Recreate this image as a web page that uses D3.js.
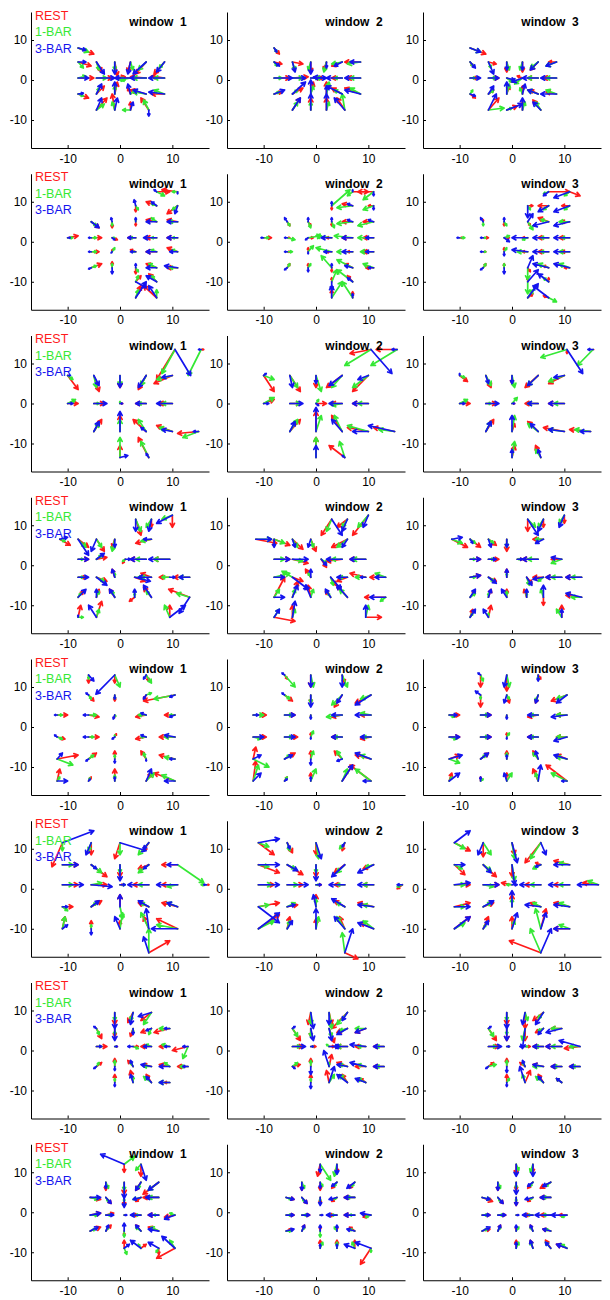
<!DOCTYPE html>
<html>
<head>
<meta charset="utf-8">
<script src="https://cdn.jsdelivr.net/npm/d3@7"></script>
<style>
body { margin: 0; background: #fff; }
svg { display: block; font-family: "Liberation Sans", Arial, sans-serif; }
</style>
</head>
<body>
<script>
// one quiver panel per row x window; each vector row is [restU,restV, bar1U,bar1V, bar3U,bar3V]
const windowNames = ["window  1", "window  2", "window  3"];
const conditions = ["REST", "1-BAR", "3-BAR"];
const conditionColors = ["#ff1a1a", "#35e835", "#1414ee"];
const tickValues = [-10, 0, 10];

const row1Targets = [[-8,8],[-8,4.5],[-4.5,4.5],[-1,4.5],[2,4.5],[5,4.5],[8.5,4.5],[-8,0.5],[-4.5,0.5],[-1,0.5],[2,0.5],[5,0.5],[8.5,0.5],[-8,-3.5],[-4.5,-3.5],[-1,-3.5],[2,-3.5],[5,-3.5],[8.5,-3.5],[-4.5,-7.5],[-1,-7.5],[2,-7.5],[5.5,-7.5]];
const row1Window1 = [[3,-1.5,2,-1,1.5,-0.5],[2.5,-1,1,-1.5,1.5,0],[1,-2.5,0.5,-2,1.5,-3],[0.5,-3.5,0,-2,0,-3],[-0.5,-2.5,0.5,-2,-0.5,-3],[-2,-3,-1.5,-2,-2.5,-3],[-2,-3,-1,-1.5,-1.5,-2.5],[3,0,1.5,0.5,2,0],[3,0,2,0,3.5,0],[2,0.3,2,-0.5,1,0],[-2,0,-2,-0.5,-3,0],[-3,0.3,-2.5,0,-3,0],[-2.5,0.5,-2,0,-3,0],[2,-1,1,-0.5,1,0.2],[1.5,2,0.5,1.5,1,2.5],[0.5,3,0,2,0,3],[-0.5,1.5,1,1,-0.5,2.5],[-3,1,-2.5,0.5,-2.5,1],[-2.5,0,-2,1,-3,0.5],[2,3,1.5,1.5,1,3],[-0.5,4,-0.5,2,0.5,3],[0,2,-1.5,0,0.5,2],[-1.5,3,-1,2.5,0,-1.5]];
const row1Window2 = [[1,-1.5,0.5,-1,0.5,-1],[1.5,-0.5,0.5,-1,1,-1],[2,-0.5,0.5,-2,0.5,-2.5],[0,-2.5,-0.5,-2,0,-3],[-0.5,-2,-0.5,-2.5,0,-1.5],[-2,-1,-2,-0.5,-1.5,-1],[-3,0,-2.5,-0.5,-2,0],[3,0,1.5,0,3.5,0],[3,0.3,2,0,2.5,0],[2,0,1.5,0,3,0],[-1.5,0,-2,0,-2.5,0.2],[-2,0,-1.5,0,-3,0],[-2.5,0,-2,0,-3,0],[1.5,0.5,1,0.5,2,1],[2,1.5,1,1,2.5,3],[0.5,3,0.5,2,0,3.5],[0,3,0.5,3,0,2],[-2,1.5,-1.5,1,-3,2],[-3,1.5,-2,1.5,-3,1],[1.5,3,1,2,1.5,3],[0,3,0,2,0,4],[0,3,0.5,2,0,4],[-1.5,3,-0.5,4,-2,3]];
const row1Window3 = [[3,-1.5,2,-1,2,-1],[0.5,-1,0.5,-1,1,-1.5],[1.5,-0.5,0.5,-1.5,1,-3],[0,-2.5,0.5,-2,0,-2],[0,-2.5,-0.5,-2,0,-2],[-1.5,-2,-1.5,-1.5,-1.5,-2],[-1.5,0,-2,-1,-2,-1],[1.5,0,1,0,2,0],[2,0,1.5,0,2,0],[1.5,-1,1,-1,1.5,-0.5],[-1,0.5,-1.5,-1.5,-2,-1],[-2,0,-2,0,-3,0],[-2.5,0,-2,0,-3,0],[1,-1,0.5,1,1,-0.5],[1,1,1,1,1,2],[0.5,2,0.5,2.5,0,3],[0,2,-0.5,1.5,0.5,2.5],[-1.5,1,-2,1,-2,1],[-2,0.5,-2,1,-3,0],[2,3,3,0.5,1.5,4],[2,1,1,0.5,3,1.5],[0,2,0.5,2,0,3],[-1.5,2.5,-1,2,-1.5,2]];

const row2Targets = [[-10,1],[-5.5,5],[-5.5,1],[-5.5,-2.5],[-5.5,-6.5],[-1.5,5],[-1.5,1],[-1.5,-2.5],[-1.5,-6.5],[3,9],[3,5],[3,1],[3,-2.5],[3,-6.5],[3,-10],[3,-14],[7,12.5],[7,9],[7,5],[7,1],[7,-2.5],[7,-6.5],[7,-10],[7,-14],[11,12.5],[11,9],[11,5],[11,1],[11,-2.5],[11,-6.5]];
const row2Window1 = [[2,0.5,1,0,0.5,0],[1.5,-1.5,1,-1,1.5,-1.5],[2,0,1,0,-0.5,0],[1.5,0,1,0,-0.5,0],[2,1,1,0.5,-0.5,-0.3],[0,-1.5,0,-1,-0.2,1],[1,-0.5,0.5,0,0.5,-0.5],[0,0.5,0.5,1,-0.2,-0.3],[0,1.5,0,1,0,-1.5],[0,-1.5,0.5,-1,-0.3,1.5],[0,-1,0,0.5,0,1],[-1.5,0,-1,0,-1.5,0],[-1,0.5,-0.5,0,-1,0],[0,-1.5,0.5,-1,0,1],[1,1.5,0.5,1.5,2,-1.5],[1,3,0.5,2,2,4],[2.5,0,1.5,-1,-0.5,0.5],[-2,1,-1,0.5,-1,1],[-2,0.5,-1,1,-2,0],[-2,0,-1,0,-2.5,0],[-2,0,-1,0.5,-2,0],[-2,1,-1.5,1,-2,0],[-1.5,2,-1,1.5,-2,1.5],[-2.5,3,0,2,-1.5,3],[-3,0.5,-1,0,0,-0.5],[-2,-2,-1,-1,-0.5,-2],[-2,0.5,-1.5,0,-2,0],[-2,0,-1,0,-2,0],[-2,1,-1,0.5,-1.5,0],[-2,0,-1.5,0,-2.5,0.5]];
const row2Window2 = [[1.5,0,1,0,-0.5,0],[0.5,-1,0.5,-1,-0.5,1],[0.5,0,1.5,-0.5,-0.5,0],[0.5,0,1,0,-0.5,0],[0.5,1,0.5,1,-0.5,-0.5],[0.5,-1,0.5,-1.5,0,1],[1,0,2.5,0.5,-0.5,-0.5],[0,1,1,1.5,0,-0.5],[0,1,0.5,1,0,-1],[0,-1,3.5,4,0,1],[0,-1,0.5,-1.5,0,1],[-1,0,-3,0.5,-2,0],[-1,0,-3,1,-1.5,0],[0,-1,-2,3,0,1],[0,1,1,3,0,-2],[0,2,2,4,0,3],[3,0,-1,-1,0,0.5],[-2,0.5,-3,-0.5,-1,0.5],[-2,0,-3,-0.5,-1,0.5],[-2,0,-3.5,0.5,-2,0],[-1,0,-3,0,-2,0],[-1.5,1,-3,2,-1.5,0.5],[-1,1.5,-3,3,-1,1],[0,1.5,-2,4,0,1],[-3,0,-2,-2,0,-1],[-1,0,-2,-1,0,-1],[-2,0,-3,-1,-1,0.5],[-2,0,-3,0,-1.5,0],[-2,0,-2.5,0,-1.5,0],[-1.5,0,-2,1,-1,0]];
const row2Window3 = [[0.5,0,1,0,-0.5,0],[0,0.5,0,-1,-0.5,1],[1,0,0.5,0,-0.5,0],[0.5,0,0.5,0,-0.5,0],[0.5,1,0.5,1,-0.5,-0.5],[0,-1,0.5,-1,0,1],[1,0,1,0.5,1,-1],[0,1,0.5,1,0,-1],[0,1,0,1,0,-1.5],[1,0,0.5,-1,0,-3],[0.5,-1,1,-2,1,2],[-1,0,-1,-0.5,-3,0],[-1,0,-2,0,-3,0.5],[0.5,-1,0,-3,1,3],[0,1,0,-3,2,3],[1,1,1,2,2,3.5],[4,0,-1,-0.5,-1,-1],[-2,0,-1,-1,-2,-1.5],[-2,1,-1.5,0.5,-3,-1],[-2,0,-1.5,0,-3,0],[-2,0,-1.5,0,-3,0],[-1,0.5,-2,1,-3,1],[0,1,-1,1,-2,2],[-1,0.5,1.5,-1,-3,3],[2,-1,-1,-1,-3,-1.5],[-1.5,0,-1,-1,-3,-1.5],[-1.5,0,-2,0,-3,-1],[-2,0,-1.5,0,-3,0],[-1.5,0,-2,0,-3,0],[-1,0,-2,1,-3,1]];

const row3Targets = [[-10,7],[-5,7],[0,7],[5,7],[10,7],[10.5,13.5],[15.5,13.5],[-10,0],[-5,0],[0,0],[5,0],[10,0],[-5,-7],[0,-7],[5,-7],[10,-7],[15,-7],[0,-13.5],[5.5,-13.5]];
const row3Window1 = [[2,-3.5,1,-1,0.5,0],[1,-4,0.5,-3,1,-2.5],[0,-3,0,-2.5,0,-3],[-1.5,-3.5,-1,-2.5,-1.5,-3],[-3.5,-2,-3,-1,-2,-0.5],[-3.5,-7.5,-2.5,-6,3,-6.5],[0.5,0,-2.5,-6.5,-0.5,0],[2,0,1.5,1,1,0],[2,0,1,0,2.5,0],[0.5,0,0,0.5,0.5,0],[-2,0,-1.5,0,-2,0],[-2.5,0,-2,0,-3,0],[1.5,3,1,2,1,2.5],[0,4,0,3,0,5],[-2.5,3,-1.5,3,-1,1],[-3,1.5,-2.5,1,-2,0.5],[-4,-0.5,-3,-1.5,-1,0],[0,3,0,5,1.5,0.5],[-2,5,-1.5,4,-0.5,1]];
const row3Window2 = [[2,-4,2,-1,0.5,0.5],[2,-4,1.5,-3,0.5,-3],[0,-3,1,-4,0,-2],[-3,-3,-2,-3,-2.5,-2.5],[-3,-4,-3,-3,-2,-1],[-4,-1,-5,-4,4,-6],[-4,0,-5,-4,-1,0],[2,1,2,1.5,1,0],[2,0,2,0,2.5,0],[2,0,0.5,1,0.5,-0.5],[-2,0,-2,-0.5,-2.5,0],[-3,0,-2,0,-3,0],[2,3,1.5,3,1,2.5],[0,5,1,4,0,6],[-2,4,-1.5,4,-2,3],[-4,1,-4,1.5,-3,0],[-4,1,-3,0.5,-5,1.5],[0,5,0,5,0,3],[-3,3,-1,4,-0.5,0.5]];
const row3Window3 = [[1.5,-1.5,1,-0.5,0,0.5],[1,-3,1,-2.5,0.5,-2],[0,-2,0.5,-3,0,-2],[-2.5,-3,-2,-2.5,-2,-2.5],[-3,-2,-3,-1.5,-2,-0.5],[0,-1,-5,-2,3,-6],[0,0,-3,-4,-1,0],[2,0,1.5,1,1,0],[2,0,1,0,2.5,0],[0.5,0,1,1.5,0.5,0],[-2.5,0,-2,0,-2,0],[-3,0,-2,0,-3,0],[1.5,3,1,2.5,1,2.5],[0.5,2,0.5,4,0,4],[-2,2.5,-2,2,-1.5,2],[-4,1,-3,0.5,-3,0.5],[-4,0.5,-3,0.5,-2,0],[0.5,3,0.5,4,0,2],[-1,3,-1,2,-0.5,2]];

const row4Targets = [[-11.5,6.5],[-8,6.5],[-4.5,6.5],[-1,6.5],[3,11.5],[6,6.5],[10,12.5],[-8,1.5],[-4.5,1.5],[1,1.5],[5,1.5],[9.5,1.5],[-8,-3],[-4.5,-3],[-1,-3],[2.8,-3],[6,-3],[9.5,-3],[13.3,-3],[-8,-8],[-4.5,-8],[-1,-8],[2.8,-8],[6,-8],[13.3,-8],[-8,-13],[-4.5,-13],[9.5,-13],[6,11.5]];
const row4Window1 = [[2,-1.5,1,-0.5,1.5,0.5],[2,-2,1.5,-2,2,-4],[1.5,-3,1,-2,-1,-3],[-0.5,-2,-0.5,-3,0,-2],[1,-4,1,-3,0,-3],[-3,-1,-2,-0.5,-1.5,0],[0,-3,-2,-1,-3,-2],[2,0,1,0,2,0],[2,0.5,1,1,1.5,1.5],[-0.5,-1,-0.5,-0.5,1,0],[-3,0,-2,0,-3,0],[-3,0,-3,0,-4,0],[1.5,0,1,0,2,0],[2,-1,1.5,-1,2,-2],[-0.5,2,0,1,-0.5,2],[2,-1,1.5,0,3,-1],[-2,1,-2,0,-2.5,0],[-2,0,-1.5,0,1,0],[-3,0,-2,0,-2,0],[1,1.5,0.5,1,1.5,2],[0.5,2,0.5,1.5,0,2],[-1,2,-0.5,1.5,-1,2],[-1,-1,0,1,0,2],[-1.5,2.5,-1,1.5,-1.5,3],[-4,2,-2.5,1,-2,-4],[0.5,3,1,0,0,0.5],[1,4,0.5,2,-1.5,3],[0,3,-1,3,3,3],[0,-2,-1,-2,-0.5,-3]];
const row4Window2 = [[4,-1,3,0,3,0],[3,-1.5,2,-1,0,-2],[2,-2.5,1,-2,0.5,-2],[1,-3,0.5,-2,-0.5,-2],[-2,-4,-1,-3,2,-4],[-3,-2,-2,-2,-1,-2],[-3,-5,-2,-3,-1,-3],[3,0,2,0,3,0],[3,-1,2,-0.5,3,0],[1,-2,1,-1,1,-1.5],[-3,-0.5,-2,0,-3,0],[-3,0,-2.5,0,-3,0],[2,0,3,1,2,0],[2,-1,-2,1.5,3,-3],[-1,2,-0.5,1,0,2],[1,-2,0.5,-2,2,-3],[-2,-1,-1.5,0,-2,0],[-3,1,-2,0,-1,0],[-3,0,-2,1,-2,0],[2,5,1,2,2,0],[1,4,0.5,2,1,3],[-0.5,3,0.5,2,-1,3],[-1,1.5,-0.5,1,-1,2],[-2,3,-1.5,2,-2,3],[-4,0,-1,-1,-3,0],[4,-1,1,2,1,2],[0,3,0.5,2,0.5,4],[3,0,0.5,3,0,3],[-2,-2,-1,-2,-1,-3]];
const row4Window3 = [[3,-2,2,-1,2,0.5],[2,-2,1,-1,0.5,-1],[1.5,-1.5,1,-1,0.5,-2],[0,-3,0,-2,0,-2],[0,-3,1.5,-2,2,-4],[-2,0,-1.5,0,-1.5,-1],[0,-2,-1,-2,-1,-3],[2,0,1,0,2,0],[2,0,1,0,1.5,0],[1,0,0.5,0,1,0],[-3,0,-2,0,-3,0],[-2,0,-2,-1,-2,0.5],[2,0.5,1,0,2,0.5],[1.5,-1,1,-1,1.5,-1.5],[0,2,0,1,0,2],[1,-1.5,0.5,-2,1,-2],[-2,0,-1,-1,-2,-0.5],[-3,0,-2,0,-3,0],[-3,0,-2,0,-3,0],[1,1.5,1,1,1,2],[0.5,2,0,1,0.5,2],[0,2,0,1.5,-1,2],[-0.5,2,0,1,0,2],[0,-2,-0.5,2,0,3],[-3,0.5,-2,0,-3,1],[0.5,2,0.5,1,1,2],[0.5,3,0,1,-1,2],[0,3,-1,2,0,2],[0,-2,-1,-2,-1,-3]];

const row5Targets = [[-6,13],[-1,13],[5,13],[-6,8],[-1,8],[5,8],[10.5,8],[-12,3],[-6,3],[-1,3],[5,3],[10.5,3],[-12,-2.5],[-6,-2.5],[-1,-2.5],[5,-2.5],[10.5,-2.5],[-12,-8],[-6,-8],[-1,-8],[5,-8],[10.5,-8],[-12,-13.5],[-6,-13.5],[-1,-13.5],[5,-13.5],[10.5,-13.5]];
const row5Window1 = [[0,-2,0,-1,1,-1.5],[0,-2,1,-3,-3.6,-4.8],[0.5,-1.5,1,-2,-0.5,-1],[1,-1.5,0.5,-1,-0.5,0.5],[0,-1.5,0,-1,0,-1],[-0.5,-1,1,0.5,-0.5,-1],[-6,-1.5,-4,-1,-1,-0.5],[2,0,1,0,-0.5,0],[2,-0.5,1.5,0,-1,0],[0,-0.5,0.2,-0.3,-0.3,-1],[-2,-0.5,-1.5,0,-1,0.5],[-2,0,-1,0,-1,-0.5],[1.5,-0.5,1,-0.5,-0.5,0.5],[2,0,1,0,-1,0],[0.3,0.8,0,0.5,-0.5,-0.5],[-2,-0.5,-1,0,-1,0.5],[-3,0,-2,0,-2,0.5],[4,1,3,-1.5,1,1.5],[1.5,1.5,1,1,-0.5,-0.5],[0,2,0,1,0,-1],[-1,2,-0.5,1.5,0,-0.5],[-3,1,-2,0.5,-1,0],[0.5,3,0.5,1,2,0],[0.5,1,0.3,0.8,0.3,0.5],[0,3,0,1.5,0,1],[1,2,1.5,2,1,3],[-4,2,-2.5,1.5,-2,0]];
const row5Window2 = [[0.5,-1,2,-3,-0.5,0.5],[0,-3,0.5,-3,0,-3],[0.5,-2,1,-3,0,-3],[1.5,-1.5,1,-1,-0.5,0.5],[0,-2,0,-2,0,-3],[-1.5,-3,-2,-2.5,-1,-2],[-3,-2,-2,-1,-3,-2.5],[2.5,0,2,0,1,0],[2,0,1.5,0,2,0],[0,-0.5,0,-0.5,0,-1],[-2,-0.5,-3,-0.5,-2,0],[-2,0,-2,0.5,-3,0],[2.5,0,1.5,-0.5,2,0],[2.5,0,1.5,0,2,0],[0,1,0.5,1.5,0,-0.5],[-2,0,-1.5,0,-2,0],[-2,-0.5,-1.5,0,-2,0],[0.5,3,3,-2,1.5,1],[2,1.5,1,1,1.5,1],[0,2,0.5,2,0,-1.5],[-1.5,2,-1,2,-1,-0.5],[-3,1,-2,1,-3,1.5],[0.5,5,1,4,1.5,2],[0.5,1,0.5,1,0.5,0.5],[0,2,1,3,0,1],[2,4,1,3,2,4],[-4,4,-3,3,-1.5,0]];
const row5Window3 = [[0,-3,0.5,-1.5,-0.5,0.5],[0,-4,0.5,-3,-0.5,-3],[0.5,-1,0,-1,0,-1.5],[0,-3,0,-1,-1,1],[0.5,-2,0.5,-1,-0.5,-2],[-0.5,-2,-0.5,-1.5,-0.5,-2],[-3,-1.5,-2,-1,-2,-2],[2,0,1,-0.5,1.5,0],[2,0,1.5,0,2,0],[0,-0.5,0,-0.5,0,-1],[-2,-0.5,-1.5,0,-2,0],[-2,0,-2,0,-3,-0.5],[2,0,1.5,-0.5,2,0],[2,0,1.5,0,2,0],[0,1,0.5,1,0,-0.5],[-2,0,-1.5,0,-2,0],[-2,0,-2,0,-2.5,-1],[2,1,2,-1,2.5,1],[1.5,1.5,1,1,1.5,1.5],[0,2,0,1.5,0,1],[-1,2,-1,1.5,-0.5,2],[-2,1,-2,0.5,-2.5,1],[0.5,2,0.5,1,2,2],[0,1,0.5,0.5,0,1],[0,2,1,2,-0.5,2],[-1,3,-0.5,2,0.5,4],[-4,4,-3,2,-1,0]];

const row6Targets = [[-11,11.5],[-5.5,11.5],[0,11.5],[5.5,11.5],[-11,6],[-5.5,6],[0,6],[5.5,6],[11,6],[-11,1],[-5.5,1],[0,1],[5.5,1],[11,1],[16.5,1],[-11,-4.5],[-5.5,-4.5],[0,-4.5],[5.5,-4.5],[11,-4.5],[-11,-10],[-5.5,-10],[0,-10],[5.5,-10],[11,-10],[5.5,-16]];
const row6Window1 = [[-2,-6,0,-2,6,3],[0,-3,-0.5,-2,-1,-3],[-1,-4,0,-3,5,-2],[-1,-2,-2,-3,-1,-1.5],[3,0,2,0,3,0],[3,-3,2,-2,1,-1],[0,-3,0,-2,0,-4],[-2,-1,-2,-2,-1,-1],[-3,0,5,-4.5,-2,0],[3,0,2,0,4,0],[3,0,2,0.5,4,-0.5],[0.5,0,1,0,1,0],[-3,0,-2,0,-4,0],[-3,0,-2,-0.5,-4,0],[0.5,0,-1,0,-0.5,0],[2,0,1,-1,1,0],[2,1.5,1,1,1.5,1.5],[0,3,0.5,-3,0,3],[-2,1,-1.5,1,-2,1.5],[-3,1,-2,1,-2,1],[0.5,3,0.5,3,1,1],[0,2,0,1,0,-1.5],[0,2,0.5,4,-1,3],[-1,3,-1.5,4,-0.5,5],[-4,2.5,-4,1,-5,0],[4,3,0,6,-1,4]];
const row6Window2 = [[3,-3,2,-1,4,1],[1,-2.5,0.5,-2,0.5,-1.5],[0,-3,0.5,-4,1,-4],[-0.5,-2,-1,-1.5,-0.5,-1],[4,-2,2,-0.5,4,0],[3,-2.5,1.5,-1,2,-1.5],[0,-3,0,-2,0,-4],[-2,-2,-1.5,-2,-2.5,-3],[-2,-1,-1.5,-0.5,-3,-2],[3,0,2.5,0,4,0],[3,0,2,0,4,0],[1,0,0.5,0,1,0],[-2,0,-1.5,0,-3,0],[-2,0,-2,0,-3,0],[-1,-1,-1,-0.5,-1,0],[4,1,2,0.5,4,-4],[2,0.5,1.5,1,1.5,0.5],[0,3,0,2,-0.5,3],[-2,1.5,-1.5,1,-2.5,2],[-3,1,-2,0.5,-3,0.5],[4,3.5,3,2,4,4],[0.5,3,0.5,2,1,2],[0,2.5,0.5,3,0,5],[-1,3,-1.5,3,-2,3],[-2.5,1.5,-2,2,-3,1.5],[2.5,-1.5,-0.5,5,1.5,6]];
const row6Window3 = [[3,-2,2,-1.5,3,3],[0,-3.5,1.5,-3,-1,-3],[0.5,-3,0.5,-4,1,-5],[-3,-5,-2,-4,1,-3],[2,-2.5,1.5,-1,2,0],[2.5,-3,1.5,-1.5,1.5,-2],[0,-3,0.5,-4,0.5,-5],[-1,0.5,-1.5,-1,-1,-0.5],[-3,1,-2,0.5,-3,0],[3,0,2,0,3,0.5],[3,0,2,-0.5,3,0],[-2,0.5,-1,0,1,0],[-3,0,-2,0,-4,0],[-3,0,-2,0,-4,0],[-3,0.5,-2,1,-4,0],[3,1,2,0,3,0],[2,1,1.5,1,2,1.5],[0,3,0,2,0,4],[-2,1,-1.5,1,-3,0.5],[-3,1,-2,1,-3,0.5],[3,3,2,1.5,3,3],[1,3,0.5,1,1,2],[0,3,0.5,2,1,4],[1,5,-1,5,1,4],[-3,0,-2,1,-3,0],[-6,3,-2,6,2,6]];

const row7Targets = [[-1,9.5],[2.5,9.5],[6,9.5],[-4.5,5.5],[-1,5.5],[2.5,5.5],[6,5.5],[9.5,5.5],[-4.5,1],[-1,1],[2.5,1],[6,1],[9.5,1],[13,1],[-4.5,-4],[-1,-4],[2.5,-4],[6,-4],[9.5,-4],[13,-4],[-1,-8],[2.5,-8],[6,-8],[9.5,-8]];
const row7Window1 = [[0,-3,0,-2,0,-4],[-1,-2.5,-0.5,-2,-0.5,-3],[-2,-2,-1.5,-3,-2.5,-1],[1,-2.5,0.5,-1.5,-0.5,0.5],[0,-2,0,-1.5,0,-3],[-0.5,-2,0,-1,0,-1.5],[-2,-1,-0.5,-1.5,-1,-0.5],[-3,-1,-2,0,-1,0],[2,0,1,0,1,0],[0.5,0,0.3,0,0.5,0],[1,0,1,-0.5,-1,0],[-2,0,-1,0.5,-1.5,0],[-2,0,-1.5,0.5,-1,0],[-3,-1,-1,-3,-1,0],[1,1,0.5,1,-0.5,-0.5],[0,2,0,1.5,0,-1],[-1,1.5,-0.5,1,-0.5,1.5],[-1.5,0.5,-1.5,0,-2,0.5],[-2,0.5,-1,1,-2,0],[-2,0,-1.5,0,-1,0],[0,2,0,1,0,-1],[-0.5,3,0,1.5,-0.5,2],[-1,2,-1.5,1.5,-1,1.5],[-1,0,-2,0,-2,0]];
const row7Window2 = [[-0.5,-3,0,-3,0.5,-4],[0.5,-3,0.5,-4,0,-3],[-3,-4,-2,-3,-1,-2],[1.5,-3,1,-2,0.5,0.5],[0,-2,0,-2,0.5,-3],[1,-3.5,0.5,-2,0.5,-3],[-2,-1,-1.5,-0.5,-2,-1.5],[-2,-1,-2,0,-2,-1],[2,0,1.5,0,2.5,0],[1,0,0.5,0,0.5,0],[1,0,-0.5,0.5,2,0],[-2,0,-2,0,-2.5,0],[-2,0,-1.5,0,-3,0.5],[-2,0,-1.5,0,-2,0],[1.5,0.5,1,1,0.5,-0.5],[0,2,0,1.5,0,-2],[0.5,3,0,1,-1,4],[-2,1,-1.5,0.5,-2,0.5],[-2,0,-1.5,0.5,-3,1],[-2,0,-1.5,0,-2,0],[0,2,0,1,0,-1.5],[-0.5,3,1,2,1,4],[-1,2,-1.5,2,-2,2],[-1,1,-1.5,1,-2,1]];
const row7Window3 = [[0,-3,0,-2,0,-4],[0,-4,0.5,-2,-0.5,-3],[-2,-2,-1,-1.5,-1.5,-3],[1.5,-3,1,-2,0.5,0.5],[0,-3,0,-1.5,0,-3],[0,-3,-0.5,-3,-0.5,-5],[-1.5,-1,-1,-0.5,-1,-1.5],[-2,0,-2,0,-3,-1],[2,0,1.5,0,2.5,0],[0.5,0,0.5,0,0.5,0],[1,0,0.5,0,-1,0],[-2,0,-1.5,0,-2,0],[-3,0,-2,0,-3,0],[-3,-0.5,-2,0,-4,1.5],[1,1,1.5,0.5,-0.5,-0.5],[0,2,0,1.5,0,-1.5],[-1,1,-0.5,1,-0.5,1.5],[-2,0.5,-2,0,-2,0.5],[-2,0,-1.5,0,-2,0],[-2,0,-1.5,0,-2,0],[0,2,0.5,1,0,-1],[1,3,-0.5,2,-1,4],[-1,2,-1.5,1.5,-1,1.5],[-1,1,-1,1,-1,1]];

const row8Targets = [[0.8,12],[4,12],[-2.7,7.5],[0.8,7.5],[4,7.5],[7.4,7.5],[-5.7,3.7],[-2.7,3.7],[0.8,3.7],[4,3.7],[7.4,3.7],[-5.7,-0.7],[-2.7,-0.7],[0.8,-0.7],[4,-0.7],[7.4,-0.7],[10.5,-0.7],[-5.7,-4.7],[-2.7,-4.7],[0.8,-4.7],[4,-4.7],[7.4,-4.7],[0.8,-9],[4,-9],[7.4,-9],[10.5,-9]];
const row8Window1 = [[0,-2,2,2,-4.5,2.5],[0,-3,-1,-1.5,1,-4],[0,-2,0.5,-1.5,0,-1.5],[0,-3,0,-2,0,-4],[-1,-2,-0.5,-1.5,-1,-2],[-3,-3,-2,-2,-2,-2],[2,-0.5,1.5,-0.5,2,0],[1,-1.5,0.5,-1,1,-1.5],[0,-2,0,-1,0,-2.5],[-1,-1,-1.5,-0.5,-1.5,-0.5],[-3,0,-2,0,-2.5,0],[2,0.5,1.5,0,2,0.5],[1.5,0.5,1,0,1.5,0],[0.3,0,0.2,0,0.5,0],[-1.5,0,-1,0,-2,0],[-2,0,-1,0,-2,0],[-2,-0.5,-1,0.5,-2,-1],[2,1,1,0.5,1.5,1],[1,1.5,0.5,1,0.5,1.5],[0,-1,0,-1.5,0,2],[-1,1.5,-1,1,-1,1.5],[-2,1,-1.5,1,-2,0.5],[0,2,0.5,-1.5,1,1],[1,1,-0.5,1,-2,2],[0,-1.5,-0.5,-1,-2,1.5],[-3.5,-2.5,-1,2,-2.5,3]];
const row8Window2 = [[-0.5,-3,2,-4,0,-2],[0,-2,-0.5,-3,0,-2.5],[0,-2,0.5,-1.5,0,-2],[0,-2,0.5,-1,0,-1.5],[-1,-1.5,-0.5,-1,-1,-1],[-1,-1.5,-0.5,-1,-1.5,-1.5],[1.5,-0.5,1,-0.5,1.5,-0.5],[1,-1.5,0.5,-1,1,-1.5],[0,-1.5,0,-1,0,-2],[-1,-1,-0.5,-0.5,-1.5,-0.5],[-2,0,-1.5,0,-2,0],[1.5,0,1,0,1.5,0],[1.5,0,1,0,1.5,0],[0.3,0,0.2,0,0.5,0],[-1.5,0,-1,0,-2,0],[-2,0,-1,0,-2,0],[-1.5,-0.5,-1,-0.5,-2,0.5],[1,0.5,1,0,1.5,0.5],[0.5,1.5,0.5,1,0.5,1.5],[0,1,0,-1.5,0,1.5],[0,1,-0.5,1,0,1.5],[-1,1,-1,0.5,-1.5,0.5],[0,2,0.5,1.5,0,1],[0,2,0,1.5,0,1],[0,2,-0.5,1.5,-2,1],[-2,-4,0,-1,-3,1.5]];
const row8Window3 = [[0,-2.5,0.5,-1.5,0,-3],[0,-2,-0.5,-2,0,-3],[0,-2,0.5,-1.5,0,-2],[0,-2,0,-1.5,0,-3],[-1,-1.5,-0.5,-1,-1,-1],[-2,-1.5,-1,-1,-1.5,-1],[2,-1,1.5,-0.5,1.5,-0.5],[1,-1.5,0.5,-1,1,-1.5],[0,-2,0,-1,0,-2],[-1,-1,-0.5,-0.5,-1.5,-0.5],[-2,0,-1.5,0,-2,0],[1.5,0,1,0,1.5,0],[1.5,0,1,0,1.5,0],[0.3,0,0.2,0,0.5,0],[-1.5,0,-1,0,-2,0],[-2,0,-1.5,0,-3,0],[-1.5,0,-1,-0.5,-3,0],[1.5,0.5,1,0.5,1.5,1],[0.5,1.5,0.5,1,0.5,1.5],[0,1,0.5,1,0,1.5],[-0.5,1.5,-0.5,1,-0.5,1.5],[-1.5,0.5,-1,0.5,-1.5,0.5],[0,2,0.5,1.5,0,1.5],[-0.5,2,-0.5,1.5,-0.5,2],[-1,2,-1,1.5,-1,1.5],[-2,1,-1,1,-2,1]];

const rows = [
  {targets: row1Targets, windows: [row1Window1, row1Window2, row1Window3]},
  {targets: row2Targets, windows: [row2Window1, row2Window2, row2Window3]},
  {targets: row3Targets, windows: [row3Window1, row3Window2, row3Window3]},
  {targets: row4Targets, windows: [row4Window1, row4Window2, row4Window3]},
  {targets: row5Targets, windows: [row5Window1, row5Window2, row5Window3]},
  {targets: row6Targets, windows: [row6Window1, row6Window2, row6Window3]},
  {targets: row7Targets, windows: [row7Window1, row7Window2, row7Window3]},
  {targets: row8Targets, windows: [row8Window1, row8Window2, row8Window3]}
];

var margin = {top: 12, left: 31},
    panelW = 178, panelH = 136,
    colStep = 196, rowStep = 161.75;

const svg = d3.select("body")
    .append("svg")
    .attr("width", 610)
    .attr("height", 1300);

const xscale = d3.scaleLinear().domain([-17, 17]).range([0, panelW]);
const yscale = d3.scaleLinear().domain([-17, 17]).range([panelH, 0]);

// quiver arrow: shaft plus two short barbs at the tip
function arrowPath(d) {
    const x0 = xscale(d.x), y0 = yscale(d.y);
    const x1 = xscale(d.x + d.u), y1 = yscale(d.y + d.v);
    const len = Math.hypot(x1 - x0, y1 - y0);
    if (len < 0.5) return `M${x0},${y0}L${x0 + 0.5},${y0}`;
    const a = Math.atan2(y1 - y0, x1 - x0);
    const h = Math.min(4.5, len * 0.4);
    const l = [x1 - h * Math.cos(a - 0.5), y1 - h * Math.sin(a - 0.5)];
    const r = [x1 - h * Math.cos(a + 0.5), y1 - h * Math.sin(a + 0.5)];
    return `M${x0},${y0}L${x1},${y1}M${l[0]},${l[1]}L${x1},${y1}L${r[0]},${r[1]}`;
}

rows.forEach((row, ri) => {
    row.windows.forEach((vecs, wi) => {
        const g = svg.append("g")
            .attr("transform", `translate(${margin.left + wi * colStep},${margin.top + ri * rowStep})`);

        // x-axis
        g.append("g")
            .attr("transform", `translate(0,${panelH})`)
            .call(d3.axisBottom(xscale).tickValues(tickValues).tickSize(-3).tickSizeOuter(0)
                .tickPadding(6).tickFormat(d => String(d)))
            .call(ax => ax.selectAll("text").attr("font-size", 12).attr("font-family", "Liberation Sans, Arial, sans-serif"));

        // y-axis
        g.append("g")
            .call(d3.axisLeft(yscale).tickValues(tickValues).tickSize(-3).tickSizeOuter(0)
                .tickPadding(4).tickFormat(d => String(d)))
            .call(ax => ax.selectAll("text").attr("font-size", 12).attr("font-family", "Liberation Sans, Arial, sans-serif"));

        conditions.forEach((c, k) => {
            const arrows = row.targets.map((t, i) => ({x: t[0], y: t[1], u: vecs[i][2 * k], v: vecs[i][2 * k + 1]}));
            g.append("g")
                .selectAll("path")
                .data(arrows)
                .join("path")
                .attr("d", arrowPath)
                .attr("fill", "none")
                .attr("stroke", conditionColors[k])
                .attr("stroke-width", 1.7)
                .attr("stroke-linecap", "round")
                .attr("stroke-linejoin", "round");
        });

        g.append("text")
            .attr("x", 127)
            .attr("y", 14)
            .attr("text-anchor", "middle")
            .attr("font-size", 12)
            .attr("font-weight", "bold")
            .style("white-space", "pre")
            .text(windowNames[wi]);

        if (wi === 0) {
            conditions.forEach((c, k) => {
                g.append("text")
                    .attr("x", 4)
                    .attr("y", 7.5 + k * 16.5)
                    .attr("font-size", 12.5)
                    .attr("fill", conditionColors[k])
                    .text(c);
            });
        }
    });
});
</script>
</body>
</html>
